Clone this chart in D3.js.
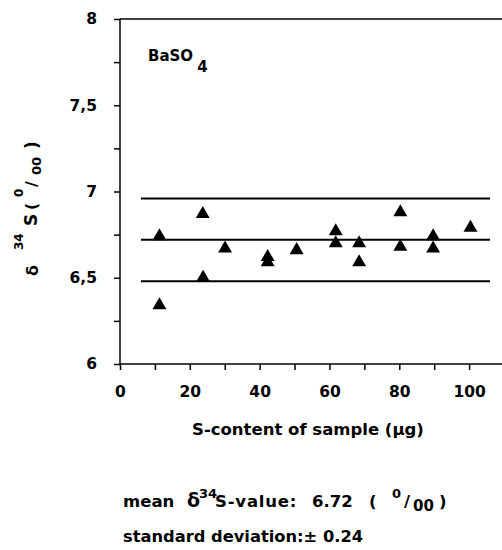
<!DOCTYPE html>
<html>
<head>
<meta charset="utf-8">
<script src="https://cdn.jsdelivr.net/npm/d3@7"></script>
<style>
  body { margin: 0; background: #fff; }
  svg { display: block; }
  text { font-family: "DejaVu Sans", "Liberation Sans", Arial, sans-serif; font-weight: bold; fill: #000; }
  .axis path, .axis line { stroke: #000; stroke-width: 1.5; }
</style>
</head>
<body>
<div id="chart"></div>
<script>
// Sample S-content (µg) and measured delta 34S values
var sampleContent = [11.3, 11.3, 23.7, 23.8, 30.1, 42.3, 42.3, 50.6, 61.8, 61.8, 68.5, 68.5, 80.3, 80.3, 89.7, 89.7, 100.4];
var deltaValues   = [6.74, 6.34, 6.87, 6.50, 6.67, 6.62, 6.59, 6.66, 6.77, 6.70, 6.70, 6.59, 6.88, 6.68, 6.74, 6.67, 6.79];

// mean and mean +/- standard deviation
var meanValue = 6.72;
var stdDev = 0.24;
var refLevels = [meanValue + stdDev, meanValue, meanValue - stdDev];
var refRange = [6, 106];

var xTicks = [0, 20, 40, 60, 80, 100];
var xMinorTicks = [0, 10, 20, 30, 40, 50, 60, 70, 80, 90, 100, 110];
var yTicks = [6, 6.5, 7, 7.5, 8];
var yMinorTicks = [6, 6.25, 6.5, 6.75, 7, 7.25, 7.5, 7.75, 8];

var svgWidth = 502;
var svgHeight = 550;
var margin = { top: 19, left: 120, bottom: 187 };

var svg = d3.select("#chart")
            .append("svg")
            .attr("width", svgWidth)
            .attr("height", svgHeight);

var x = d3.scaleLinear().domain([0, 110]).range([margin.left, 504]);
var y = d3.scaleLinear().domain([6, 8]).range([svgHeight - margin.bottom + 1, margin.top]);

// frame top line (plot is cut off on the right)
svg.append("line")
   .attr("x1", x(0)).attr("x2", svgWidth)
   .attr("y1", y(8)).attr("y2", y(8))
   .attr("stroke", "#000").attr("stroke-width", 1.5);

// y axis
var fmt = d => String(d).replace(".", ",");
svg.append("g")
   .classed("axis", true)
   .attr("transform", `translate(${x(0)},0)`)
   .call(d3.axisLeft(y).tickValues(yMinorTicks).tickSize(6).tickPadding(17)
           .tickFormat(d => yTicks.includes(d) ? fmt(d) : ""))
   .call(g => g.select(".domain").attr("d", `M0,${y(6)}V${y(8)}`))
   .selectAll("text").style("font-size", "15.5px");

// x axis
svg.append("g")
   .classed("axis", true)
   .attr("transform", `translate(0,${y(6)})`)
   .call(d3.axisBottom(x).tickValues(xMinorTicks).tickSize(6).tickPadding(16)
           .tickFormat(d => xTicks.includes(d) ? d : ""))
   .call(g => g.select(".domain").attr("d", `M${x(0)},0H${svgWidth}`))
   .selectAll("text").style("font-size", "15.5px");

// mean and deviation lines
svg.selectAll(".ref")
   .data(refLevels)
   .enter()
   .append("line")
   .attr("x1", x(refRange[0])).attr("x2", x(refRange[1]))
   .attr("y1", d => y(d)).attr("y2", d => y(d))
   .attr("stroke", "#000").attr("stroke-width", 2);

// triangles
var tri = d3.symbol().type(d3.symbolTriangle).size(84);
svg.selectAll(".pt")
   .data(sampleContent)
   .enter()
   .append("path")
   .attr("d", tri)
   .attr("transform", (d, i) => `translate(${x(d)},${y(deltaValues[i])})`)
   .attr("fill", "#000");

// BaSO4 label
var lab = svg.append("text").attr("x", 148).attr("y", 61).style("font-size", "15px");
lab.append("tspan").text("BaSO");
lab.append("tspan").attr("dx", 4).attr("dy", 11).text("4");

// y axis title
var yt = svg.append("text").attr("transform", "translate(37,276) rotate(-90)").style("font-size", "16px");
yt.append("tspan").attr("x", 0).attr("y", 1).text("δ");
yt.append("tspan").attr("x", 26).attr("y", -14).style("font-size", "12px").text("34");
yt.append("tspan").attr("x", 50).attr("y", 0).style("font-size", "17px").text("S");
yt.append("tspan").attr("x", 66).attr("y", 0).text("(");
yt.append("tspan").attr("x", 79).attr("y", -14).style("font-size", "12px").text("0");
yt.append("tspan").attr("x", 89).attr("y", 0).text("/");
yt.append("tspan").attr("x", 101).attr("y", 4).style("font-size", "13px").text("00");
yt.append("tspan").attr("x", 127).attr("y", 1).style("font-size", "17px").text(")");

// x axis title
svg.append("text").attr("x", 192).attr("y", 435).style("font-size", "16.5px")
   .text("S-content of sample (\u00b5g)");

// summary lines
var m = svg.append("text").attr("y", 507).style("font-size", "16.5px");
m.append("tspan").attr("x", 123).text("mean");
m.append("tspan").attr("x", 187).style("font-size", "19px").text("δ");
m.append("tspan").attr("x", 199).attr("dy", -9).style("font-size", "13px").text("34");
m.append("tspan").attr("x", 215).attr("dy", 9).style("letter-spacing", "0.8px").text("S-value:");
m.append("tspan").attr("x", 312).text(String(meanValue));
m.append("tspan").attr("x", 369).text("(");
m.append("tspan").attr("x", 392).attr("dy", -9).style("font-size", "13px").text("0");
m.append("tspan").attr("x", 404).attr("dy", 9).text("/");
m.append("tspan").attr("x", 413).attr("dy", 4).style("font-size", "15px").text("00");
m.append("tspan").attr("x", 439).attr("dy", -4).text(")");

svg.append("text").attr("x", 123).attr("y", 542).style("font-size", "16.3px")
   .text("standard deviation:\u00b1 " + String(stdDev));
</script>
</body>
</html>
